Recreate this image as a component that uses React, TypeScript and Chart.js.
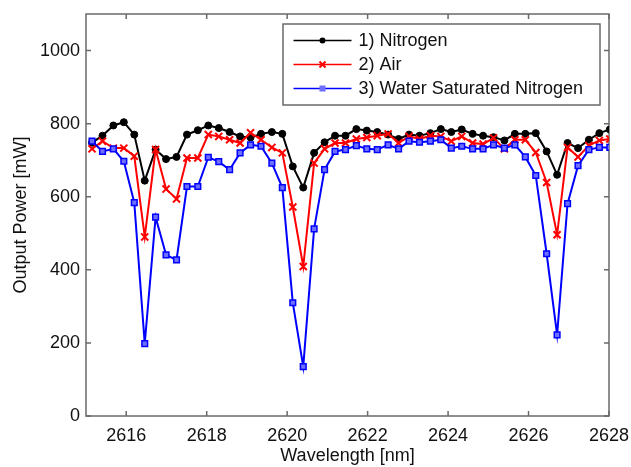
import React, { useEffect, useRef } from "react";
import { Chart, registerables } from "chart.js";

Chart.register(...registerables);

const wavelengths = [
  2615.15, 2615.41, 2615.68, 2615.94, 2616.2, 2616.46, 2616.73, 2616.99, 2617.25, 2617.51,
  2617.78, 2618.04, 2618.3, 2618.57, 2618.83, 2619.09, 2619.35, 2619.62, 2619.88, 2620.14,
  2620.4, 2620.67, 2620.93, 2621.19, 2621.45, 2621.72, 2621.98, 2622.24, 2622.51, 2622.77,
  2623.03, 2623.29, 2623.56, 2623.82, 2624.08, 2624.34, 2624.61, 2624.87, 2625.13, 2625.4,
  2625.66, 2625.92, 2626.18, 2626.45, 2626.71, 2626.97, 2627.23, 2627.5, 2627.76, 2628.02,
];

const nitrogen = [
  748, 767, 795, 804, 770, 644, 729, 703, 709, 770,
  782, 795, 788, 777, 765, 762, 772, 777, 772, 683,
  625, 720, 749, 767, 767, 785, 781, 777, 770, 758,
  770, 767, 774, 785, 777, 784, 772, 767, 763, 754,
  772, 772, 774, 724, 660, 747, 733, 756, 774, 784,
];

const air = [
  731, 752, 733, 733, 711, 490, 729, 621, 594, 706,
  706, 770, 765, 756, 747, 775, 756, 735, 720, 572,
  409, 692, 731, 747, 747, 758, 762, 767, 772, 747,
  765, 758, 767, 765, 752, 765, 747, 744, 761, 731,
  756, 756, 721, 639, 496, 735, 709, 740, 754, 758,
];

const waterSaturated = [
  752, 724, 731, 697, 584, 198, 544, 441, 427, 628,
  628, 708, 696, 674, 720, 742, 738, 692, 625, 310,
  135, 512, 674, 724, 729, 740, 731, 729, 742, 731,
  752, 749, 752, 756, 733, 738, 731, 731, 742, 733,
  742, 709, 658, 444, 222, 581, 685, 729, 735, 735,
];

const seriesLabels = ["1) Nitrogen", "2) Air", "3) Water Saturated Nitrogen"];
const xTicks = [2616, 2618, 2620, 2622, 2624, 2626, 2628];
const yTicks = [0, 200, 400, 600, 800, 1000];
const xTitle = "Wavelength [nm]";
const yTitle = "Output Power [mW]";

const FONT = "'Liberation Sans', Arial, Helvetica, sans-serif";
const AXIS_COLOR = "#6a6a6a";
const TEXT_COLOR = "#111111";

const toPoints = (ys: number[]) => ys.map((y, i) => ({ x: wavelengths[i], y }));

const drawMarker = (ctx: CanvasRenderingContext2D, ds: any, x: number, y: number) => {
  ctx.save();
  ctx.strokeStyle = ds.borderColor;
  ctx.fillStyle = ds.pointBackgroundColor;
  ctx.lineWidth = 2;
  if (ds.pointStyle === "circle") {
    ctx.beginPath();
    ctx.arc(x, y, 3, 0, Math.PI * 2);
    ctx.fill();
  } else if (ds.pointStyle === "crossRot") {
    const s = 3;
    ctx.beginPath();
    ctx.moveTo(x - s, y - s);
    ctx.lineTo(x + s, y + s);
    ctx.moveTo(x + s, y - s);
    ctx.lineTo(x - s, y + s);
    ctx.stroke();
  } else {
    ctx.fillRect(x - 3, y - 3, 6, 6);
  }
  ctx.restore();
};

const framePlugin = {
  id: "matlabFrame",
  beforeDatasetsDraw(chart: any) {
    const { ctx, chartArea: a, scales } = chart;
    ctx.save();
    ctx.strokeStyle = AXIS_COLOR;
    ctx.lineWidth = 1.5;
    ctx.strokeRect(a.left, a.top, a.right - a.left, a.bottom - a.top);
    const L = 5;
    ctx.beginPath();
    for (const v of xTicks) {
      const x = scales.x.getPixelForValue(v);
      ctx.moveTo(x, a.bottom);
      ctx.lineTo(x, a.bottom - L);
      ctx.moveTo(x, a.top);
      ctx.lineTo(x, a.top + L);
    }
    for (const v of yTicks) {
      const y = scales.y.getPixelForValue(v);
      ctx.moveTo(a.left, y);
      ctx.lineTo(a.left + L, y);
      ctx.moveTo(a.right, y);
      ctx.lineTo(a.right - L, y);
    }
    ctx.stroke();
    ctx.restore();
  },
  afterDraw(chart: any) {
    const { ctx, chartArea: a } = chart;
    const left = a.left + 197;
    const top = a.top + 10;
    const w = 317;
    const h = 81;
    ctx.save();
    ctx.fillStyle = "#ffffff";
    ctx.fillRect(left, top, w, h);
    ctx.strokeStyle = AXIS_COLOR;
    ctx.lineWidth = 1.5;
    ctx.strokeRect(left, top, w, h);
    const rows = [16.5, 40.5, 64.5];
    chart.data.datasets.forEach((ds: any, i: number) => {
      const y = top + rows[i];
      ctx.strokeStyle = ds.borderColor;
      ctx.lineWidth = 1.5;
      ctx.beginPath();
      ctx.moveTo(left + 10.5, y);
      ctx.lineTo(left + 68.5, y);
      ctx.stroke();
      drawMarker(ctx, ds, left + 39.5, y);
      ctx.fillStyle = TEXT_COLOR;
      ctx.font = `18px ${FONT}`;
      ctx.textBaseline = "middle";
      ctx.textAlign = "left";
      ctx.fillText(ds.label, left + 75.5, y + 1);
    });
    ctx.restore();
  },
};

export default function App() {
  const canvasRef = useRef<HTMLCanvasElement | null>(null);

  useEffect(() => {
    if (!canvasRef.current) return;
    const chart = new Chart(canvasRef.current, {
      type: "line",
      data: {
        datasets: [
          {
            label: seriesLabels[0],
            data: toPoints(nitrogen),
            borderColor: "#000000",
            backgroundColor: "#000000",
            pointBackgroundColor: "#000000",
            pointBorderColor: "#000000",
            pointStyle: "circle",
            pointRadius: 3.5,
            pointBorderWidth: 1,
            borderWidth: 2,
            order: 2,
          },
          {
            label: seriesLabels[1],
            data: toPoints(air),
            borderColor: "#ff0000",
            backgroundColor: "#ff0000",
            pointBackgroundColor: "#ff0000",
            pointBorderColor: "#ff0000",
            pointStyle: "crossRot",
            pointRadius: 5,
            pointBorderWidth: 2,
            borderWidth: 2,
            order: 1,
          },
          {
            label: seriesLabels[2],
            data: toPoints(waterSaturated),
            borderColor: "#0000ff",
            backgroundColor: "#0000ff",
            pointBackgroundColor: "#6f6fff",
            pointBorderColor: "#0000ff",
            pointStyle: "rect",
            pointRadius: 4,
            pointBorderWidth: 1.5,
            borderWidth: 2,
            order: 0,
          },
        ] as any,
      },
      options: {
        animation: false,
        responsive: true,
        maintainAspectRatio: false,
        layout: { padding: { top: 14, right: 22, left: 0, bottom: 0 } },
        plugins: { legend: { display: false }, tooltip: { enabled: false } },
        elements: { line: { tension: 0 } },
        scales: {
          x: {
            type: "linear",
            min: 2615,
            max: 2628,
            grid: { display: false, drawTicks: false },
            border: { display: false },
            ticks: {
              font: { family: FONT, size: 18 },
              color: TEXT_COLOR,
              padding: 9,
              maxRotation: 0,
              callback: (v: any) => String(v),
            },
            afterBuildTicks: (s: any) => {
              s.ticks = xTicks.map((value) => ({ value }));
            },
            afterFit: (s: any) => {
              s.height = 51;
              s.paddingLeft = 0;
              s.paddingRight = 0;
            },
            title: {
              display: true,
              text: xTitle,
              font: { family: FONT, size: 18 },
              color: TEXT_COLOR,
              padding: { top: 0, bottom: 0 },
            },
          },
          y: {
            type: "linear",
            min: 0,
            max: 1100,
            grid: { display: false, drawTicks: false },
            border: { display: false },
            ticks: {
              font: { family: FONT, size: 18 },
              color: TEXT_COLOR,
              padding: 6,
              callback: (v: any) => String(v),
            },
            afterBuildTicks: (s: any) => {
              s.ticks = yTicks.map((value) => ({ value }));
            },
            afterFit: (s: any) => {
              s.width = 86;
              s.paddingTop = 0;
              s.paddingBottom = 0;
            },
            title: {
              display: true,
              text: yTitle,
              font: { family: FONT, size: 18 },
              color: TEXT_COLOR,
              padding: { top: 10, bottom: 0 },
            },
          },
        },
      },
      plugins: [framePlugin],
    });
    return () => chart.destroy();
  }, []);

  return (
    <div style={{ position: "fixed", left: 0, top: 0, width: 631, height: 467, background: "#fff" }}>
      <canvas ref={canvasRef} />
    </div>
  );
}
